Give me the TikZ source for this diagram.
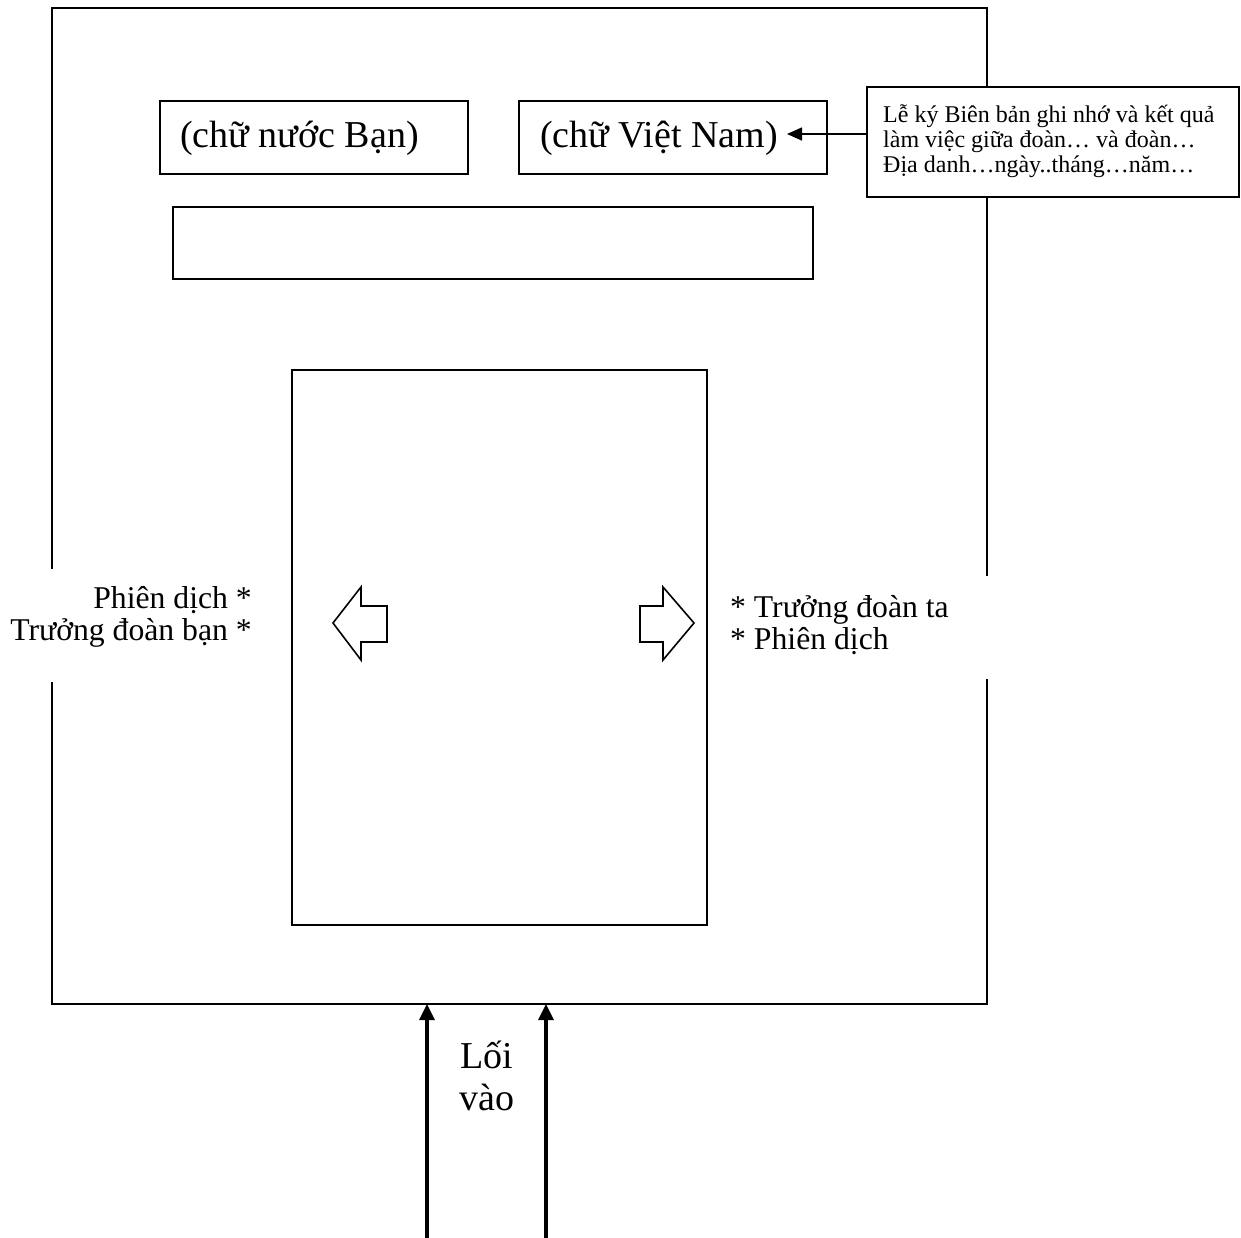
\documentclass[tikz,border=0pt]{standalone}
\usepackage{fontspec}
\setmainfont{Liberation Serif}
\usetikzlibrary{arrows.meta}
\tikzset{
  frameline/.style={line width=1.6pt, line cap=rect},
  boxrect/.style={draw, line width=1.6pt},
  bigtext/.style={font=\fontsize{38}{44}\selectfont, inner sep=0pt},
  sidetext/.style={font=\fontsize{31.7}{32}\selectfont, inner sep=0pt},
  smalltext/.style={font=\fontsize{24}{25}\selectfont, inner sep=0pt, anchor=base west},
  callbox/.style={draw, fill=white, line width=1.6pt, inner sep=0pt},
  blockarrow/.style={draw, line width=1.6pt, line join=miter, fill=white},
  entryarrow/.style={line width=3.2pt, -{Triangle[length=16pt,width=15pt]}},
  thinarrow/.style={line width=1.6pt, -{Triangle[length=15pt,width=13pt]}}
}
\begin{document}
\begin{tikzpicture}[x=1pt,y=-1pt]
\useasboundingbox (0,0) rectangle (1241,1238);
% outer frame with gaps
\draw[frameline] (52,568) -- (52,8) -- (987,8) -- (987,575);
\draw[frameline] (987,680) -- (987,1004) -- (52,1004) -- (52,683);
% top boxes
\draw[boxrect] (160,101) rectangle (468,174);
\node[bigtext, anchor=base west] (ban) at (180,148) {(chữ nước Bạn)};
\draw[boxrect] (519,101) rectangle (827,174);
\node[bigtext, anchor=base west] (vn) at (540,148) {(chữ Việt Nam)};
\draw[boxrect] (173,207) rectangle (813,279);
% callout
\node[callbox, minimum width=372pt, minimum height=110pt] (callout) at (1053,142) {};
\node[smalltext] (c1) at (883,123) {Lễ ký Biên bản ghi nhớ và kết quả};
\node[smalltext] (c2) at (883,148) {làm việc giữa đoàn… và đoàn…};
\node[smalltext] (c3) at (883,173) {Địa danh…ngày..tháng…năm…};
\coordinate (vntip) at (787,134);
\draw[thinarrow] ([yshift=8pt]callout.west) -- (vntip);
% table
\draw[boxrect] (292,370) rectangle (707,925);
% block arrows
\draw[blockarrow] (333,623) -- (361,587) -- (361,606) -- (387,606) -- (387,642) -- (361,642) -- (361,660) -- cycle;
\draw[blockarrow] (694,623) -- (663,587) -- (663,606) -- (640,606) -- (640,642) -- (663,642) -- (663,660) -- cycle;
% side labels
\node[sidetext, anchor=base east] (leftA) at (252,608) {Phiên dịch *};
\node[sidetext, anchor=base east] (leftB) at (252,640) {Trưởng đoàn bạn *};
\node[sidetext, anchor=base west] (rightA) at (730,617) {* Trưởng đoàn ta};
\node[sidetext, anchor=base west] (rightB) at (730,649) {* Phiên dịch};
% entrance
\coordinate (inL) at (427,1238);
\coordinate (topL) at (427,1004);
\coordinate (inR) at (546,1238);
\coordinate (topR) at (546,1004);
\draw[entryarrow] (inL) -- (topL);
\draw[entryarrow] (inR) -- (topR);
\node[bigtext, anchor=base] (loi) at (487,1068) {Lối};
\node[bigtext, anchor=base] (vao) at (487,1110) {vào};
\end{tikzpicture}
\end{document}
